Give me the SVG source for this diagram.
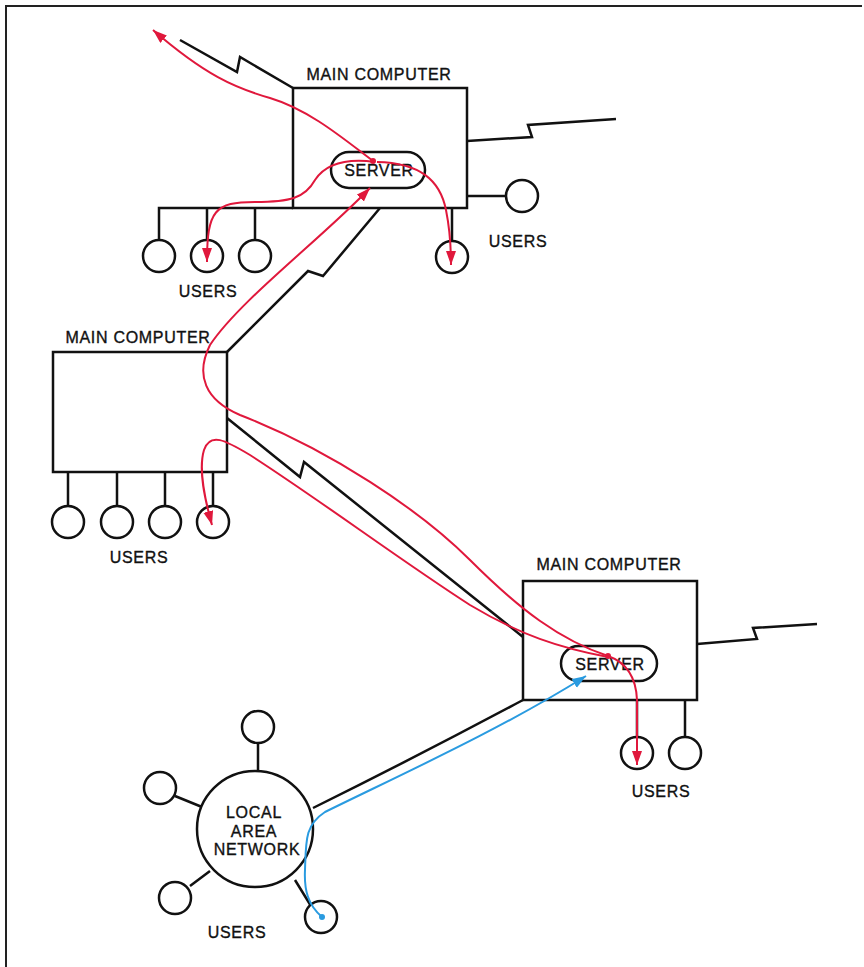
<svg xmlns="http://www.w3.org/2000/svg" width="864" height="967" viewBox="0 0 864 967">
<style>
.ln{fill:none;stroke:#111;stroke-width:2.5;stroke-linejoin:miter}
.nd{fill:#fff;stroke:#111;stroke-width:2.5}
.t{font-family:"Liberation Sans",Arial,sans-serif;font-size:16px;fill:#111;stroke:#111;stroke-width:0.35;letter-spacing:0.7px;text-anchor:middle}
.red{fill:none;stroke:#e0183c;stroke-width:2}
.blue{fill:none;stroke:#2a9be0;stroke-width:2}
</style>
<defs>
<marker id="ar" markerUnits="userSpaceOnUse" markerWidth="15" markerHeight="11" refX="14" refY="5" orient="auto"><path d="M0,0 L14,5 L0,10 z" fill="#e0183c"/></marker>
<marker id="ab" markerUnits="userSpaceOnUse" markerWidth="15" markerHeight="11" refX="14" refY="5" orient="auto"><path d="M0,0 L14,5 L0,10 z" fill="#2a9be0"/></marker>
</defs>
<rect width="864" height="967" fill="#fff"/>
<path d="M6,967 L6,6 L862,6" fill="none" stroke="#222" stroke-width="2"/>

<g id="top-computer">
<text class="t" x="379" y="80">MAIN COMPUTER</text>
<rect class="nd" x="293" y="88" width="174" height="120"/>
<rect class="nd" x="331" y="152" width="94" height="36" rx="18"/>
<text class="t" x="379" y="176">SERVER</text>
</g>
<g id="top-users-left">
<path class="ln" d="M159,240 L159,208 L293,208 M207,208 L207,240 M255,208 L255,240"/>
<circle class="nd" cx="159" cy="256" r="16"/>
<circle class="nd" cx="207" cy="256" r="16"/>
<circle class="nd" cx="255" cy="256" r="16"/>
<text class="t" x="208" y="297">USERS</text>
</g>
<g id="top-users-right">
<path class="ln" d="M452,208 L452,241 M467,196 L506,196"/>
<circle class="nd" cx="452" cy="257" r="16"/>
<circle class="nd" cx="522" cy="196" r="16"/>
<text class="t" x="518" y="247">USERS</text>
</g>

<g id="middle-computer">
<text class="t" x="138" y="343">MAIN COMPUTER</text>
<rect class="nd" x="53" y="352" width="174" height="120"/>
</g>
<g id="middle-users">
<path class="ln" d="M68,472 L68,506 M117,472 L117,506 M165,472 L165,506 M213,472 L213,506"/>
<circle class="nd" cx="68" cy="522" r="16"/>
<circle class="nd" cx="117" cy="522" r="16"/>
<circle class="nd" cx="165" cy="522" r="16"/>
<circle class="nd" cx="213" cy="522" r="16"/>
<text class="t" x="139" y="563">USERS</text>
</g>

<g id="bottom-computer">
<text class="t" x="609" y="570">MAIN COMPUTER</text>
<rect class="nd" x="523" y="581" width="174" height="119"/>
<rect class="nd" x="561" y="646" width="96" height="35" rx="17.5"/>
<text class="t" x="610" y="670">SERVER</text>
</g>
<g id="bottom-users">
<path class="ln" d="M637,700 L637,737 M685,700 L685,737"/>
<circle class="nd" cx="637" cy="753" r="16"/>
<circle class="nd" cx="685" cy="753" r="16"/>
<text class="t" x="661" y="797">USERS</text>
</g>

<g id="lan">
<path class="ln" d="M258,743 L258,771 M175,796 L202,807 M190,886 L210,871 M295,880 L311,906"/>
<circle class="nd" cx="255" cy="829" r="58"/>
<circle class="nd" cx="258" cy="727" r="16"/>
<circle class="nd" cx="160" cy="788" r="16"/>
<circle class="nd" cx="175" cy="898" r="16"/>
<circle class="nd" cx="321" cy="917" r="16"/>
<text class="t" x="254" y="818">LOCAL</text>
<text class="t" x="254" y="837">AREA</text>
<text class="t" x="257" y="855">NETWORK</text>
<text class="t" x="237" y="938">USERS</text>
</g>

<g id="connectors">
<path class="ln" d="M180,40 L237,72 L240,57 L293,88"/>
<path class="ln" d="M467,141 L532,137 L528,125 L616,119"/>
<path class="ln" d="M380,208 L323,276 L308,271 L227,352"/>
<path class="ln" d="M227,418 L300,477 L304,462 L523,637"/>
<path class="ln" d="M697,644 L757,639 L753,628 L817,624"/>
<path class="ln" d="M313,808 Q420,755 523,700"/>

<path class="red" marker-end="url(#ar)" d="M373,161 C345,140 310,110 270,98 C235,88 205,75 153,30"/>
<path class="red" marker-end="url(#ar)" d="M375,162 C345,158 325,165 315,180 C305,198 290,202 255,202 C215,202 207,210 207,262"/>
<path class="red" marker-end="url(#ar)" d="M377,162 C420,163 440,180 446,210 C450,230 451,245 451,265"/>
<path class="red" marker-end="url(#ar)" d="M608,656 C560,640 520,610 470,560 C420,510 330,450 240,415 C205,400 195,375 210,345 C240,300 320,240 370,188"/>
<path class="red" marker-end="url(#ar)" d="M608,657 C560,648 520,635 470,605 C400,560 320,500 250,455 C225,440 210,432 204,450 C198,470 205,500 212,525"/>
<path class="red" marker-end="url(#ar)" d="M608,656 C625,662 636,675 637,700 L637,765"/>
<circle cx="373" cy="161" r="3" fill="#e0183c"/>
<circle cx="608" cy="656" r="3" fill="#e0183c"/>

<path class="blue" marker-end="url(#ab)" d="M322,917 C308,905 304,890 305,870 C306,840 305,825 325,812 C400,775 500,730 586,676"/>
<circle cx="322" cy="917" r="3" fill="#2a9be0"/>
</g>
</svg>
